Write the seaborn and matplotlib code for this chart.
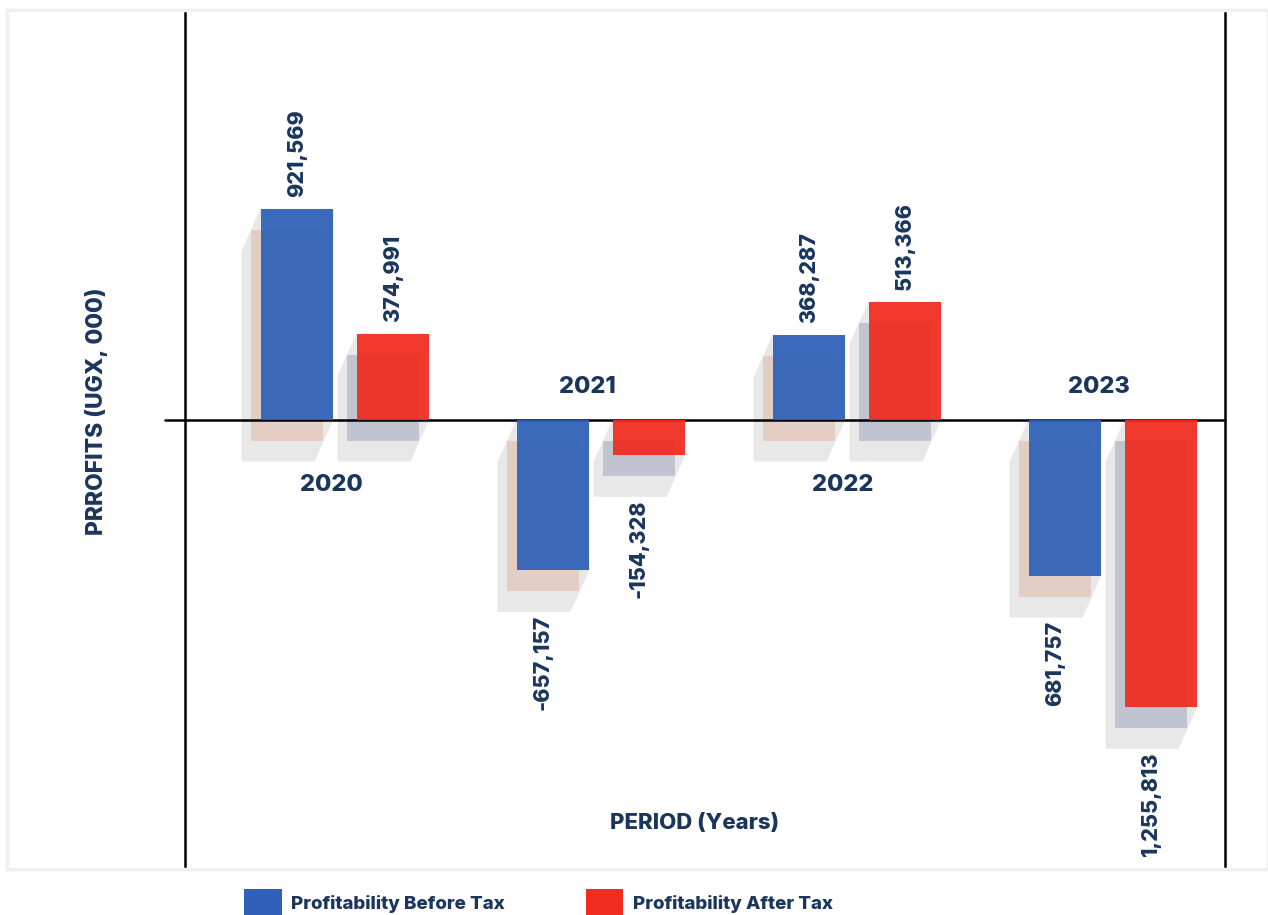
import matplotlib
matplotlib.use("Agg")
import matplotlib.pyplot as plt
from matplotlib.patches import Polygon, Rectangle, Patch
import pandas as pd
import seaborn as sns

# ---- data (UGX, 000) ----
years = ["2020", "2021", "2022", "2023"]
before_tax = [921569, -657157, 368287, -681757]
after_tax = [374991, -154328, 513366, -1255813]
before_tax_labels = ["921,569", "-657,157", "368,287", "681,757"]
after_tax_labels = ["374,991", "-154,328", "513,366", "1,255,813"]
series_names = ["Profitability Before Tax", "Profitability After Tax"]

# ---- style ----
BLUE = "#2F61B8"
RED = "#F12B1E"
TINT_BLUE = "#E3CDC4"
TINT_RED = "#C0C4D0"
GREY = "#E8E8E8"
NAVY = "#1B365D"
WEIGHT = "heavy"

sns.set_style("white")
plt.rcParams["font.family"] = ["Inter", "DejaVu Sans"]

W, H = 1268, 915
PT = 0.72  # points per output pixel at 100 dpi

fig = plt.figure(figsize=(W / 100, H / 100), dpi=100)
fig.patch.set_facecolor("white")
ax = fig.add_axes([185 / W, 47 / H, 1040 / W, 858 / H])

df = pd.DataFrame({
    "year": years * 2,
    "value": before_tax + after_tax,
    "series": [series_names[0]] * len(years) + [series_names[1]] * len(years),
})

sns.barplot(data=df, x="year", y="value", hue="series", order=years,
            hue_order=series_names, palette=[BLUE, RED], width=0.75, gap=0.24,
            errorbar=None, saturation=1, alpha=0.93, linewidth=0,
            legend=False, ax=ax, zorder=3)

ax.set_xlim(-0.625, 3.4375)
ax.set_ylim(-1.96e6, 1.79e6)

# extruded drop shadows behind every bar
to_px = ax.transData
to_data = ax.transData.inverted()
for container, tint in zip(ax.containers, [TINT_BLUE, TINT_RED]):
    for bar in container:
        x0, y0 = bar.get_x(), bar.get_y()
        (L, b0), (R, b1) = to_px.transform(
            [(x0, y0), (x0 + bar.get_width(), y0 + bar.get_height())])
        top, bot = max(b0, b1), min(b0, b1)
        hull = [(L, top), (R, top), (R, bot), (R - 19, bot - 42),
                (L - 19, bot - 42), (L - 19, top - 42)]
        ax.add_patch(Polygon(to_data.transform(hull), closed=True,
                             fc=GREY, ec="none", zorder=1))
        rect = [(L - 10, top - 21), (R - 10, top - 21),
                (R - 10, bot - 21), (L - 10, bot - 21)]
        ax.add_patch(Polygon(to_data.transform(rect), closed=True,
                             fc=tint, ec="none", zorder=2))

# zero line, reaching a little past the left axis
ax.axhline(0, xmin=-20 / 1040, xmax=1, color="black", lw=1.8,
           clip_on=False, zorder=2.5)

# value labels: above positive bars, below the shadow of negative bars
for container, labels in zip(ax.containers, [before_tax_labels, after_tax_labels]):
    for bar, text in zip(container, labels):
        xc = bar.get_x() + bar.get_width() / 2
        end = bar.get_y() + bar.get_height()
        if bar.get_height() >= 0:
            ax.annotate(text, (xc, end), xytext=(0, 12 * PT),
                        textcoords="offset points", rotation=90,
                        ha="center", va="bottom", fontsize=15.5,
                        fontweight=WEIGHT, color=NAVY, zorder=5)
        else:
            ax.annotate(text, (xc, end), xytext=(-10 * PT, -45 * PT),
                        textcoords="offset points", rotation=90,
                        ha="center", va="top", fontsize=15.5,
                        fontweight=WEIGHT, color=NAVY, zorder=5)

# year labels: below the zero line for profit years, above it for loss years
for i, yr in enumerate(years):
    positive = before_tax[i] + after_tax[i] > 0
    dy = -65 if positive else 33
    ax.annotate(yr, (i, 0), xytext=(-14 * PT, dy * PT), textcoords="offset points",
                ha="center", va="center", fontsize=17, fontweight=WEIGHT,
                color=NAVY, zorder=5)

ax.text(0.49, 0.053, "PERIOD (Years)", transform=ax.transAxes, ha="center",
        va="center", fontsize=16, fontweight=WEIGHT, color=NAVY)
fig.text(97 / W, 1 - 411 / H, "PRROFITS (UGX, 000)", rotation=90, ha="center",
         va="center", fontsize=16.5, fontweight=WEIGHT, color=NAVY)

ax.set_xlabel("")
ax.set_ylabel("")
ax.set_xticks([])
ax.set_yticks([])
for side in ["top", "bottom"]:
    ax.spines[side].set_visible(False)
for side in ["left", "right"]:
    ax.spines[side].set_visible(True)
    ax.spines[side].set_color("black")
    ax.spines[side].set_linewidth(1.8)

# light outer frame
fig.patches.append(Rectangle((7 / W, 1 - 869 / H), 1261 / W, 859 / H,
                             transform=fig.transFigure, fill=False,
                             ec="#F0F0F0", lw=2.5, zorder=0))

handles = [Patch(facecolor=BLUE, edgecolor="none"),
           Patch(facecolor=RED, edgecolor="none")]
fig.legend(handles, series_names, loc="center", bbox_to_anchor=(0.4247, 0.013),
           ncol=2, frameon=False, handlelength=2.0, handleheight=2.0,
           handletextpad=0.5, columnspacing=4.3,
           prop={"family": ["Inter", "DejaVu Sans"], "weight": WEIGHT, "size": 13.5},
           labelcolor=NAVY)

fig.savefig("out.png", dpi=100)
